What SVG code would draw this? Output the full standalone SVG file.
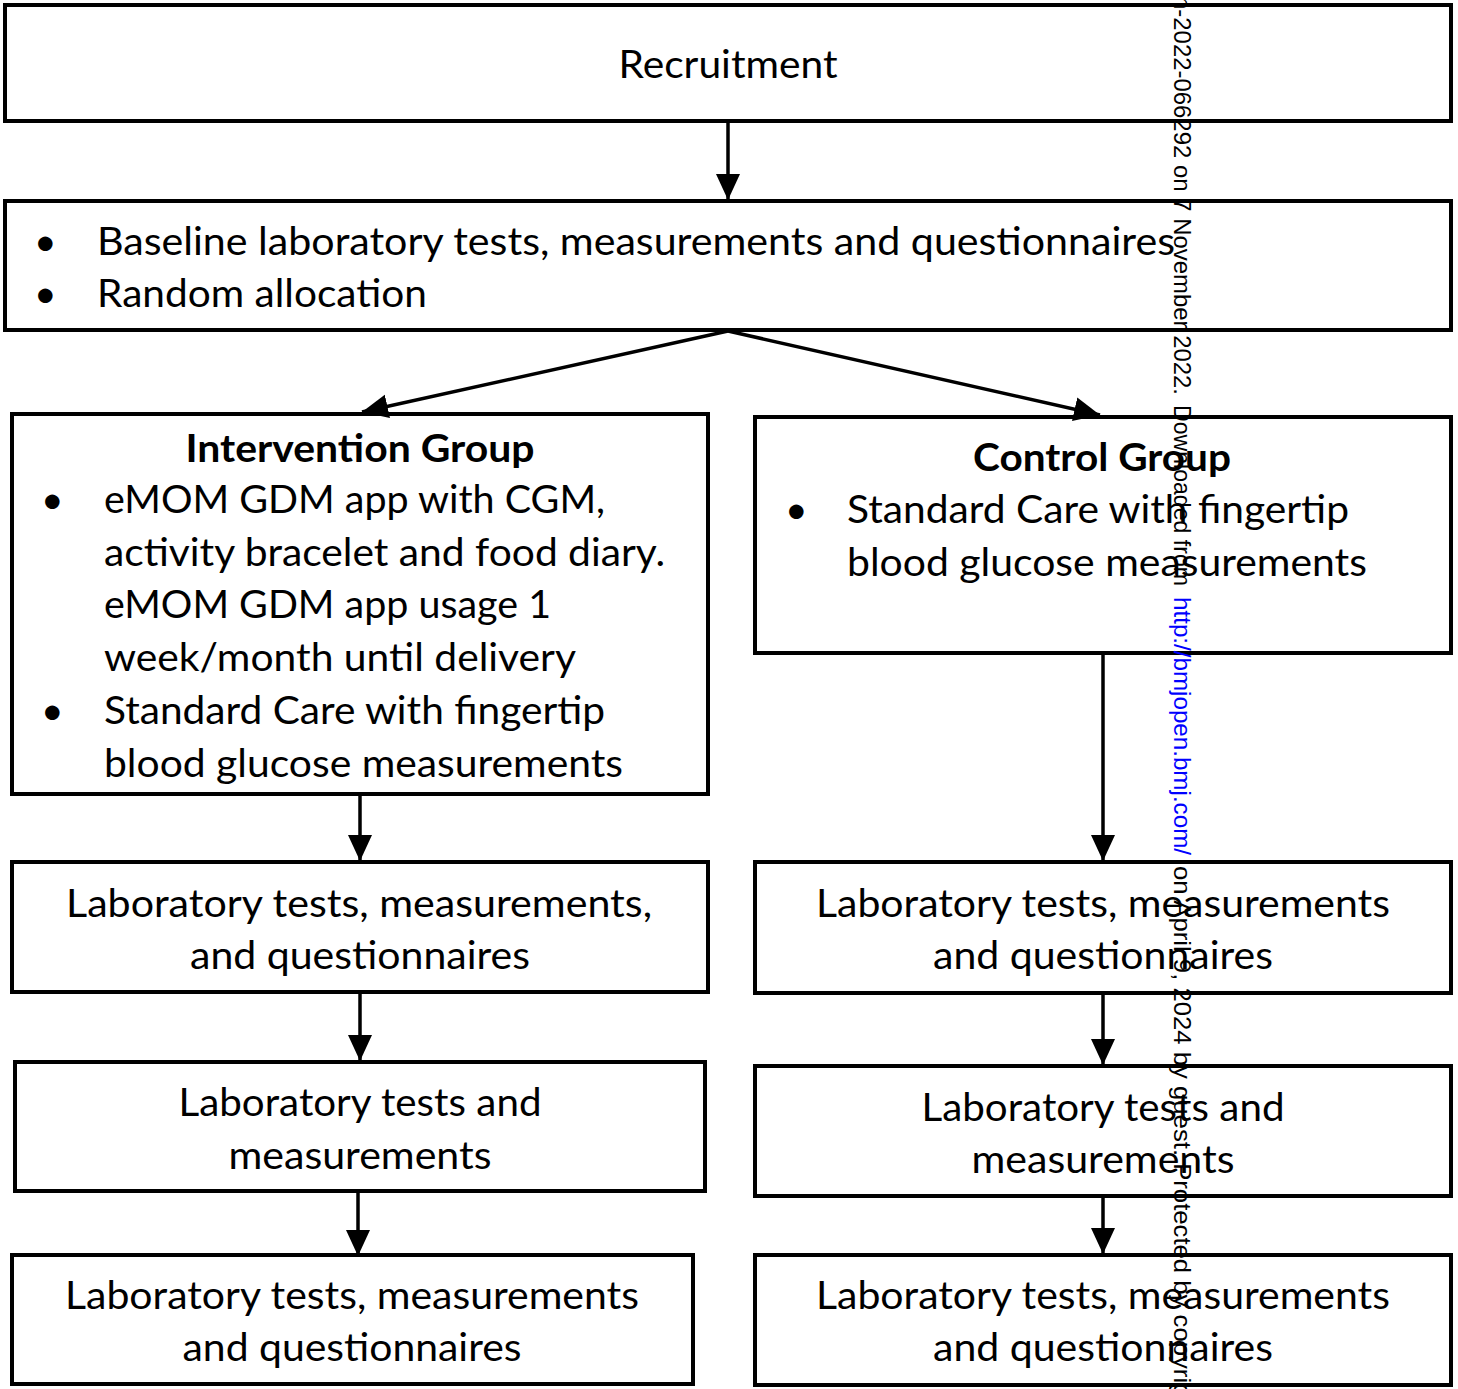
<svg xmlns="http://www.w3.org/2000/svg" width="1458" height="1389" viewBox="0 0 1458 1389">
<style>
.box{fill:#fff;stroke:#000;stroke-width:4}
.t{font-family:Lato,"Open Sans","Liberation Sans",sans-serif;font-size:39px;fill:#000}
.c{text-anchor:middle}
.b{font-weight:bold}
.conn{stroke:#000;stroke-width:3.5;fill:none}
.wm{font-family:"Liberation Sans",Arial,sans-serif;font-size:24px;fill:#000}
</style>
<defs>
<marker id="ah" markerUnits="userSpaceOnUse" markerWidth="26" markerHeight="26" viewBox="0 0 26 26" refX="26" refY="13" orient="auto">
<polygon points="0,1 26,13 0,25" fill="#000"/>
</marker>
</defs>
<rect width="1458" height="1389" fill="#fff"/>
<g id="recruitment"><rect class="box" x="5" y="5" width="1446" height="116"/><text class="t c" x="728" y="78" textLength="219" lengthAdjust="spacingAndGlyphs">Recruitment</text></g>
<g id="baseline"><rect class="box" x="5" y="201" width="1446" height="129"/>
<text class="t" x="34" y="255">•</text><text class="t" x="97" y="255" textLength="1078" lengthAdjust="spacingAndGlyphs">Baseline laboratory tests, measurements and questionnaires</text>
<text class="t" x="34" y="307">•</text><text class="t" x="97" y="307" textLength="330" lengthAdjust="spacingAndGlyphs">Random allocation</text></g>
<g id="intervention"><rect class="box" x="12" y="414" width="696" height="380"/>
<text class="t c b" x="360" y="462" textLength="349" lengthAdjust="spacingAndGlyphs">Intervention Group</text>
<text class="t" x="41" y="513">•</text><text class="t" x="104" y="513" textLength="501" lengthAdjust="spacingAndGlyphs">eMOM GDM app with CGM,</text>
<text class="t" x="104" y="566" textLength="561" lengthAdjust="spacingAndGlyphs">activity bracelet and food diary.</text>
<text class="t" x="104" y="618" textLength="447" lengthAdjust="spacingAndGlyphs">eMOM GDM app usage 1</text>
<text class="t" x="104" y="671" textLength="472" lengthAdjust="spacingAndGlyphs">week/month until delivery</text>
<text class="t" x="41" y="724">•</text><text class="t" x="104" y="724" textLength="501" lengthAdjust="spacingAndGlyphs">Standard Care with fingertip</text>
<text class="t" x="104" y="777" textLength="519" lengthAdjust="spacingAndGlyphs">blood glucose measurements</text></g>
<g id="control"><rect class="box" x="755" y="417" width="696" height="236"/>
<text class="t c b" x="1102" y="471" textLength="258" lengthAdjust="spacingAndGlyphs">Control Group</text>
<text class="t" x="785" y="523">•</text><text class="t" x="847" y="523" textLength="502" lengthAdjust="spacingAndGlyphs">Standard Care with fingertip</text>
<text class="t" x="847" y="576" textLength="520" lengthAdjust="spacingAndGlyphs">blood glucose measurements</text></g>
<g id="left2"><rect class="box" x="12" y="862" width="696" height="130"/>
<text class="t c" x="359" y="917" textLength="586" lengthAdjust="spacingAndGlyphs">Laboratory tests, measurements,</text>
<text class="t c" x="360" y="969" textLength="340" lengthAdjust="spacingAndGlyphs">and questionnaires</text></g>
<g id="right2"><rect class="box" x="755" y="862" width="696" height="131"/>
<text class="t c" x="1103" y="917" textLength="574" lengthAdjust="spacingAndGlyphs">Laboratory tests, measurements</text>
<text class="t c" x="1103" y="969" textLength="340" lengthAdjust="spacingAndGlyphs">and questionnaires</text></g>
<g id="left3"><rect class="box" x="15" y="1062" width="690" height="129"/>
<text class="t c" x="360" y="1116" textLength="363" lengthAdjust="spacingAndGlyphs">Laboratory tests and</text>
<text class="t c" x="360" y="1169" textLength="263" lengthAdjust="spacingAndGlyphs">measurements</text></g>
<g id="right3"><rect class="box" x="755" y="1066" width="696" height="130"/>
<text class="t c" x="1103" y="1121" textLength="363" lengthAdjust="spacingAndGlyphs">Laboratory tests and</text>
<text class="t c" x="1103" y="1173" textLength="263" lengthAdjust="spacingAndGlyphs">measurements</text></g>
<g id="left4"><rect class="box" x="12" y="1255" width="681" height="129"/>
<text class="t c" x="352" y="1309" textLength="574" lengthAdjust="spacingAndGlyphs">Laboratory tests, measurements</text>
<text class="t c" x="352" y="1361" textLength="339" lengthAdjust="spacingAndGlyphs">and questionnaires</text></g>
<g id="right4"><rect class="box" x="755" y="1255" width="696" height="130"/>
<text class="t c" x="1103" y="1309" textLength="574" lengthAdjust="spacingAndGlyphs">Laboratory tests, measurements</text>
<text class="t c" x="1103" y="1361" textLength="340" lengthAdjust="spacingAndGlyphs">and questionnaires</text></g>
<g id="connectors">
<line class="conn" x1="728" y1="121" x2="728" y2="200" marker-end="url(#ah)"/>
<line class="conn" x1="728" y1="331" x2="362" y2="412" marker-end="url(#ah)"/>
<line class="conn" x1="728" y1="331" x2="1100" y2="415" marker-end="url(#ah)"/>
<line class="conn" x1="360" y1="794" x2="360" y2="861" marker-end="url(#ah)"/>
<line class="conn" x1="1103" y1="653" x2="1103" y2="861" marker-end="url(#ah)"/>
<line class="conn" x1="360" y1="992" x2="360" y2="1061" marker-end="url(#ah)"/>
<line class="conn" x1="1103" y1="993" x2="1103" y2="1065" marker-end="url(#ah)"/>
<line class="conn" x1="358" y1="1191" x2="358" y2="1256" marker-end="url(#ah)"/>
<line class="conn" x1="1103" y1="1196" x2="1103" y2="1254" marker-end="url(#ah)"/>
</g>
<g id="watermark" transform="translate(1174,0) rotate(90)">
<text class="wm" x="-4" y="0" textLength="399" lengthAdjust="spacingAndGlyphs">n-2022-066292 on 7 November 2022.</text>
<text class="wm" x="405" y="0" textLength="181" lengthAdjust="spacingAndGlyphs">Downloaded from</text>
<text class="wm" x="597" y="0" textLength="258" lengthAdjust="spacingAndGlyphs" fill="#0000ff" style="fill:#0000ff">http://bmjopen.bmj.com/</text>
<text class="wm" x="866" y="0" textLength="560" lengthAdjust="spacingAndGlyphs">on April 9, 2024 by guest. Protected by copyright.</text>
</g>
</svg>
